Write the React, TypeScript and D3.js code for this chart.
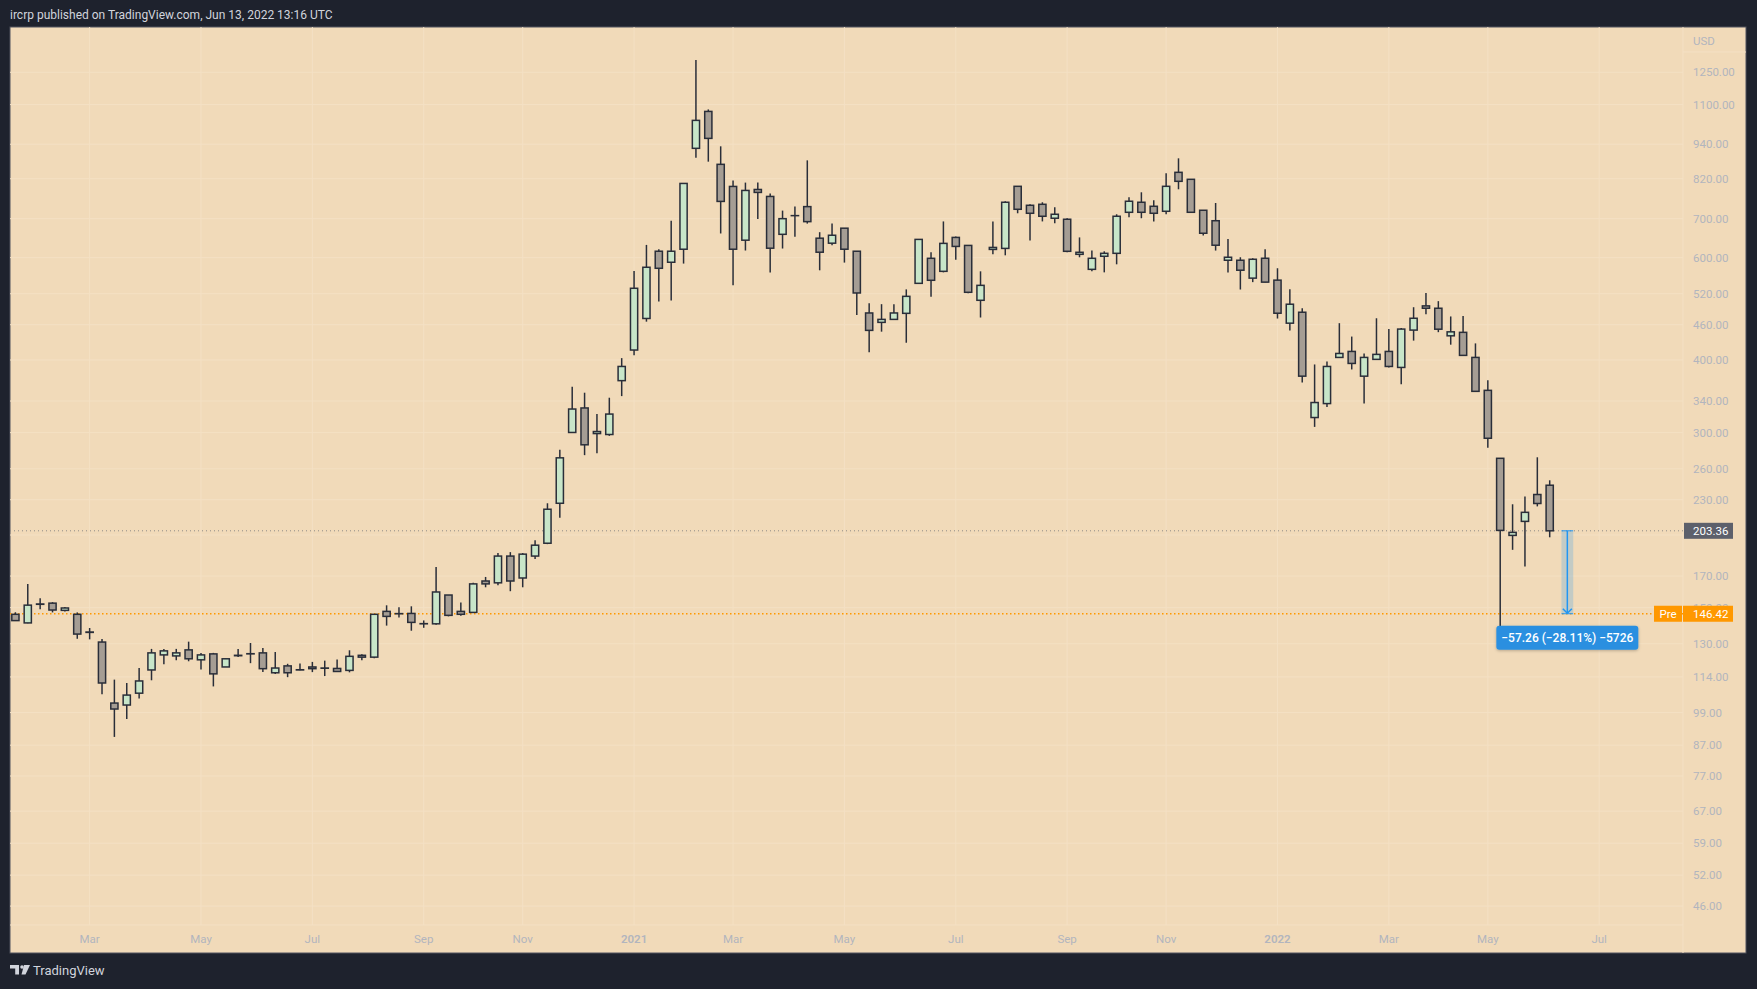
import React from 'react';
import * as d3 from 'd3';

// weekly candles, first bar = week of 20 Jan 2020
const firstWeek = new Date(2020, 0, 20);

const opens = [
  146.1, 141.2, 152.2, 152.7, 148.4, 146.1, 136.2, 130.9, 102.8, 102.0,
  106.9, 117.2, 124.4, 123.9, 126.9, 122.0, 124.9, 118.6, 124.2, 125.0,
  125.4, 115.9, 119.1, 117.3, 118.6, 118.1, 117.9, 117.0, 124.2, 123.3,
  147.8, 146.5, 146.6, 140.8, 140.7, 157.7, 147.8, 147.2, 166.7, 165.5,
  184.0, 168.7, 184.0, 193.6, 226.8, 300.2, 330.8, 298.9, 297.8, 368.6,
  416.1, 471.5, 615.4, 589.1, 620.3, 925.0, 1070.6, 868.2, 795.4, 642.9,
  785.9, 764.5, 658.0, 708.6, 734.3, 648.0, 635.3, 674.2, 615.4, 481.9,
  464.3, 469.8, 481.2, 541.9, 598.4, 568.3, 650.0, 629.7, 506.7, 619.8,
  622.3, 795.8, 738.2, 741.1, 701.3, 698.5, 607.9, 572.8, 603.2, 610.3,
  718.0, 747.1, 735.3, 720.9, 841.1, 818.2, 723.8, 694.4, 593.8, 593.8,
  553.2, 598.5, 548.8, 462.8, 483.3, 318.5, 336.6, 404.1, 413.8, 375.2,
  401.0, 413.8, 388.4, 450.3, 495.6, 491.0, 440.2, 446.3, 404.1, 354.7,
  271.0, 199.7, 211.1, 234.8, 243.6,
];
const highs = [
  147.3, 164.7, 155.7, 153.3, 150.4, 147.2, 138.4, 132.5, 112.8, 111.3,
  118.1, 127.4, 127.4, 127.4, 131.1, 125.4, 125.4, 122.5, 127.4, 130.4,
  127.9, 125.9, 120.1, 120.2, 121.0, 121.6, 122.2, 126.7, 124.7, 146.1,
  151.4, 150.2, 150.8, 142.6, 176.2, 157.7, 153.1, 165.5, 169.4, 186.2,
  186.9, 186.2, 195.9, 226.8, 280.3, 359.9, 351.4, 322.9, 344.5, 403.0,
  569.3, 631.0, 620.3, 694.6, 804.9, 1312.1, 1079.1, 932.4, 814.5, 807.6,
  807.6, 773.7, 722.8, 734.3, 882.0, 663.6, 686.5, 674.2, 615.4, 501.0,
  499.0, 499.0, 529.1, 644.9, 612.8, 692.5, 652.6, 629.7, 568.3, 692.5,
  750.1, 795.8, 741.1, 747.1, 732.4, 701.3, 650.0, 617.3, 615.2, 712.4,
  762.0, 777.2, 753.1, 837.8, 889.1, 818.2, 723.8, 745.0, 646.2, 600.9,
  598.5, 620.2, 575.3, 529.5, 491.0, 393.0, 397.7, 462.8, 438.9, 410.5,
  471.9, 452.1, 453.9, 493.0, 521.3, 505.0, 475.3, 476.1, 427.2, 369.1,
  271.0, 225.9, 233.0, 272.1, 248.4,
];
const lows = [
  142.5, 141.0, 149.0, 147.2, 147.8, 132.6, 132.3, 106.4, 89.9, 96.5,
  104.7, 112.5, 119.9, 121.8, 121.3, 117.4, 109.8, 118.6, 123.4, 120.4,
  116.2, 115.3, 113.9, 117.1, 116.2, 114.4, 116.5, 116.1, 121.8, 122.8,
  139.7, 144.2, 136.9, 138.5, 140.2, 144.9, 145.3, 147.2, 162.6, 163.9,
  160.1, 162.6, 181.8, 192.9, 214.2, 300.2, 274.4, 276.6, 296.2, 346.7,
  407.4, 465.6, 504.3, 506.3, 586.0, 891.3, 877.4, 660.2, 538.0, 617.1,
  699.2, 565.4, 622.0, 652.0, 686.5, 570.6, 630.3, 588.3, 478.1, 412.3,
  447.5, 469.8, 428.3, 541.9, 514.0, 566.0, 595.2, 520.9, 473.3, 607.9,
  605.5, 715.2, 642.4, 692.5, 687.4, 612.8, 600.8, 568.3, 566.0, 584.3,
  704.0, 701.3, 692.5, 712.4, 786.5, 718.0, 654.7, 617.0, 565.5, 528.8,
  544.5, 544.5, 471.4, 449.6, 365.9, 306.9, 332.2, 404.1, 385.3, 336.6,
  401.0, 388.4, 363.5, 431.9, 479.5, 446.6, 425.0, 407.4, 353.3, 282.7,
  134.5, 188.6, 176.6, 224.0, 198.2,
];
const closes = [
  142.5, 151.5, 152.0, 148.6, 149.8, 135.1, 136.0, 111.3, 100.4, 106.1,
  112.2, 125.4, 126.4, 125.4, 122.5, 124.4, 115.4, 122.5, 124.0, 124.9,
  117.8, 118.1, 115.9, 117.2, 117.8, 118.0, 116.5, 123.7, 123.3, 146.1,
  144.9, 146.4, 141.5, 140.7, 159.6, 145.5, 146.1, 164.8, 164.8, 184.0,
  166.7, 185.4, 192.1, 221.5, 271.5, 329.4, 285.9, 301.3, 322.9, 389.9,
  531.4, 577.5, 575.2, 615.4, 804.9, 1033.3, 962.2, 749.6, 620.3, 782.9,
  776.8, 622.8, 700.1, 708.5, 691.9, 613.0, 655.6, 620.3, 521.6, 449.8,
  469.8, 481.9, 514.7, 644.9, 548.5, 634.8, 627.2, 523.0, 537.6, 624.7,
  747.1, 726.6, 715.2, 706.8, 712.4, 615.2, 612.8, 598.4, 610.3, 706.8,
  750.1, 718.0, 715.2, 795.8, 811.7, 718.0, 660.8, 630.2, 600.9, 570.8,
  596.1, 544.5, 481.4, 498.9, 375.2, 338.0, 389.9, 410.5, 394.6, 404.1,
  409.0, 389.9, 452.1, 471.9, 491.0, 451.9, 447.2, 407.4, 353.3, 293.4,
  203.7, 202.1, 218.8, 226.6, 203.36,
];

// 200.00 sits under the last-price label, so only its grid line shows
const priceTicks = [1250, 1100, 940, 820, 700, 600, 520, 460, 400, 340, 300, 260, 230, 170, 150, 130, 114, 99, 87, 77, 67, 59, 52, 46];
const gridOnlyTicks = [200];

const timeTicks = [
  { date: new Date(2020, 2, 2), label: 'Mar' },
  { date: new Date(2020, 4, 4), label: 'May' },
  { date: new Date(2020, 6, 6), label: 'Jul' },
  { date: new Date(2020, 8, 7), label: 'Sep' },
  { date: new Date(2020, 10, 2), label: 'Nov' },
  { date: new Date(2021, 0, 4), label: '2021' },
  { date: new Date(2021, 2, 1), label: 'Mar' },
  { date: new Date(2021, 4, 3), label: 'May' },
  { date: new Date(2021, 6, 5), label: 'Jul' },
  { date: new Date(2021, 8, 6), label: 'Sep' },
  { date: new Date(2021, 10, 1), label: 'Nov' },
  { date: new Date(2022, 0, 3), label: '2022' },
  { date: new Date(2022, 2, 7), label: 'Mar' },
  { date: new Date(2022, 4, 2), label: 'May' },
  { date: new Date(2022, 6, 4), label: 'Jul' },
];

const lastPrice = 203.36;
const prePrice = 146.42;
const measureText = '\u221257.26 (\u221228.11%) \u22125726';

const W = 1757;
const H = 989;
const panel = { left: 10, top: 27, right: 1746, bottom: 953 };
const axisX = 1683;
const axisY = 925;

const bg = '#f1dab9';
const grid = '#f4e0c4';
const ink = '#2a2e39';
const bull = '#c8e6c9';
const bear = '#a59d94';
const axisText = '#b2b5be';
const font = 'Roboto, "Liberation Sans", sans-serif';

export default function App() {
  const x = d3.scaleLinear().domain([0, 124]).range([15.4, 1549.7]);
  const y = d3.scaleLog().domain([46, 1250]).range([906.1, 72.3]);
  const weekIndex = (d: Date) => d3.timeMonday.count(firstWeek, d);

  const bodyW = 7.2;
  const candles = closes.map((c, i) => {
    const o = opens[i];
    const yo = y(o);
    const yc = y(c);
    const top = Math.min(yo, yc);
    const h = Math.abs(yo - yc);
    return (
      <g key={i}>
        <line x1={x(i)} x2={x(i)} y1={y(highs[i])} y2={y(lows[i])} stroke={ink} strokeWidth={1.5} />
        <rect x={x(i) - bodyW / 2} y={top} width={bodyW} height={Math.max(h, 0.01)}
          fill={c >= o ? bull : bear} stroke={ink} strokeWidth={1.5} />
      </g>
    );
  });

  const yLast = y(lastPrice);
  const yPre = y(prePrice);
  const mx0 = x(124.95);
  const mx1 = x(125.9);
  const mcx = (mx0 + mx1) / 2;

  return (
    <div style={{ position: 'fixed', left: 0, top: 0, width: W, height: H }}>
      <svg width={W} height={H} style={{ display: 'block', fontFamily: font }}>
        <defs>
          <clipPath id="plot">
            <rect x={panel.left} y={panel.top} width={axisX - panel.left} height={axisY - panel.top} />
          </clipPath>
          <filter id="shadow" x="-10%" y="-30%" width="120%" height="160%">
            <feDropShadow dx="0" dy="1" stdDeviation="1.5" floodColor="#000" floodOpacity="0.25" />
          </filter>
        </defs>
        <rect width={W} height={H} fill="#1e222d" />
        <text x={10} y={19} fill="#d1d4dc" fontSize={12}>
          ircrp published on TradingView.com, Jun 13, 2022 13:16 UTC
        </text>

        <rect x={panel.left} y={panel.top} width={panel.right - panel.left} height={panel.bottom - panel.top}
          fill={bg} stroke="#50535e" strokeWidth={1} />

        {/* grid */}
        <g stroke={grid} strokeWidth={1}>
          {priceTicks.concat(gridOnlyTicks).map((p) => (
            <line key={p} x1={panel.left} x2={axisX} y1={y(p)} y2={y(p)} />
          ))}
          {timeTicks.map((t, i) => (
            <line key={i} x1={x(weekIndex(t.date))} x2={x(weekIndex(t.date))} y1={panel.top} y2={axisY} />
          ))}
          <line x1={axisX} x2={axisX} y1={panel.top} y2={panel.bottom} />
          <line x1={panel.left} x2={axisX} y1={axisY} y2={axisY} />
          <line x1={axisX} x2={panel.right} y1={52} y2={52} />
        </g>

        <g clipPath="url(#plot)">
          <line x1={panel.left} x2={axisX} y1={yLast} y2={yLast} stroke="#8d8a86" strokeWidth={1} strokeDasharray="1 3" />
          <line x1={panel.left} x2={axisX} y1={yPre} y2={yPre} stroke="#ff9800" strokeWidth={1.3} strokeDasharray="1.5 2.5" />
          {candles}

          {/* measure tool */}
          <rect x={mx0} y={yLast} width={mx1 - mx0} height={yPre - yLast} fill="#2196f3" fillOpacity={0.22} />
          <line x1={mx0} x2={mx1} y1={yLast} y2={yLast} stroke="#2196f3" strokeWidth={1} />
          <line x1={mx0} x2={mx1} y1={yPre} y2={yPre} stroke="#2196f3" strokeWidth={1} />
          <line x1={mcx} x2={mcx} y1={yLast} y2={yPre} stroke="#2196f3" strokeWidth={1.5} />
          <path d={`M${mcx - 4.5},${yPre - 5} L${mcx},${yPre - 0.5} L${mcx + 4.5},${yPre - 5}`}
            fill="none" stroke="#2196f3" strokeWidth={1.5} />
        </g>

        <g filter="url(#shadow)">
          <rect x={mcx - 71} y={yPre + 12} width={142} height={24} rx={3} fill="#2a8fe0" />
        </g>
        <text x={mcx} y={yPre + 28.5} textAnchor="middle" fill="#fff" fontSize={12} fontWeight={500}>
          {measureText}
        </text>

        {/* price axis */}
        <text x={1693} y={45} fill={axisText} fontSize={11.5}>USD</text>
        {priceTicks.map((p) => (
          <text key={p} x={1693} y={y(p) + 4} fill={axisText} fontSize={11.5}>{p.toFixed(2)}</text>
        ))}

        <rect x={1684} y={yLast - 8} width={49} height={16} fill="#5d606b" />
        <text x={1693} y={yLast + 4} fill="#fff" fontSize={11.5}>{lastPrice.toFixed(2)}</text>

        <rect x={1654} y={yPre - 8} width={28} height={16} fill="#ff9800" />
        <text x={1668} y={yPre + 4} textAnchor="middle" fill="#fff" fontSize={11.5}>Pre</text>
        <rect x={1683} y={yPre - 8} width={50} height={16} fill="#ff9800" />
        <text x={1693} y={yPre + 4} fill="#fff" fontSize={11.5}>{prePrice.toFixed(2)}</text>

        {/* time axis */}
        {timeTicks.map((t, i) => (
          <text key={i} x={x(weekIndex(t.date))} y={943} textAnchor="middle" fill={axisText}
            fontSize={11.5} fontWeight={t.label.length === 4 ? 600 : 400}>{t.label}</text>
        ))}

        {/* footer logo */}
        <g fill="#d1d4dc">
          <path d="M10,965 h9 v9.5 h-3.8 v-6 h-5.2 z" />
          <circle cx={22} cy={967} r={1.8} />
          <path d="M24,965 h6 l-4.5,9.5 h-4 z" />
        </g>
        <text x={33} y={974.5} fill="#d1d4dc" fontSize={13}>TradingView</text>
      </svg>
    </div>
  );
}
